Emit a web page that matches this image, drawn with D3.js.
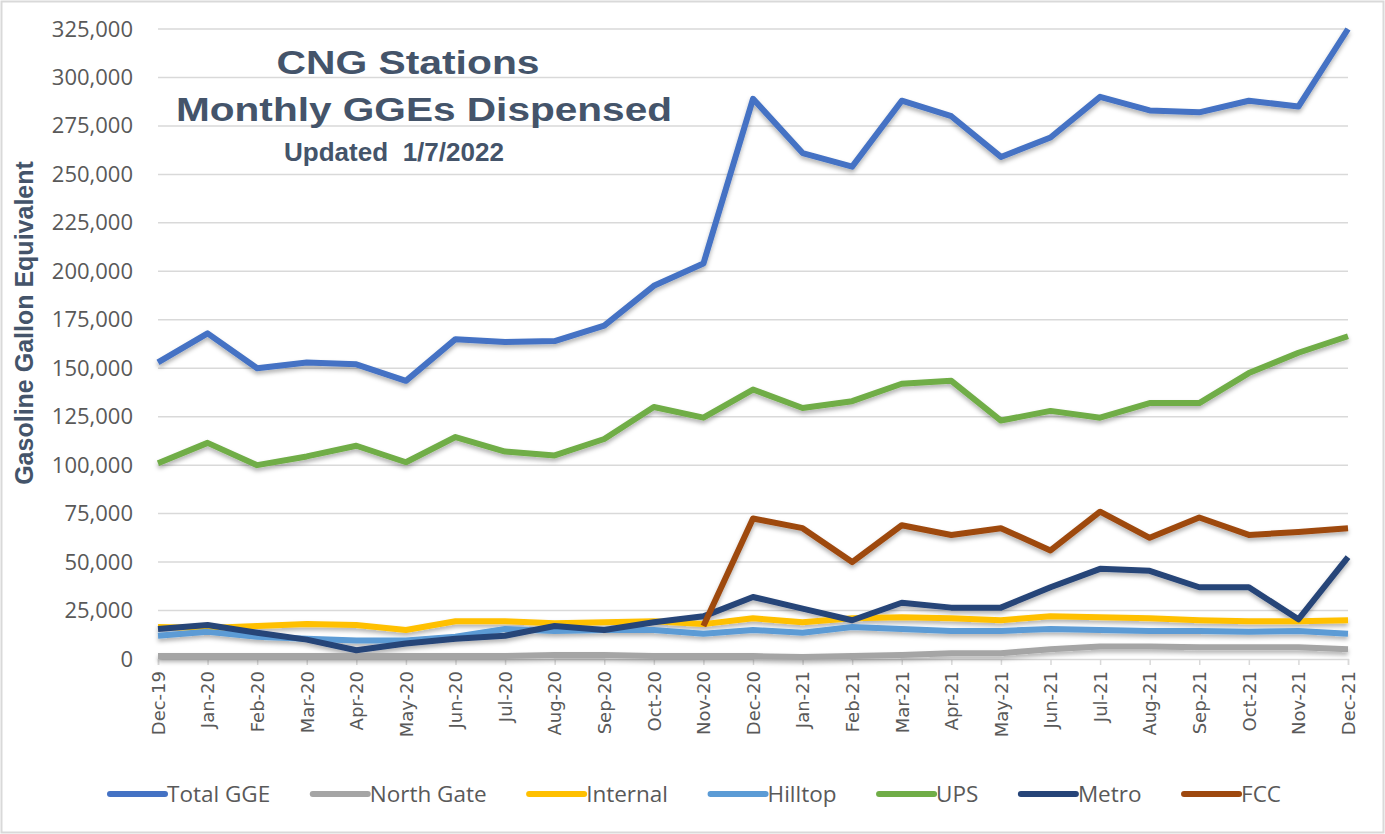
<!DOCTYPE html>
<html>
<head>
<meta charset="utf-8">
<script src="https://cdn.jsdelivr.net/npm/d3@7"></script>
<style>
  body { margin: 0; background: #fff; }
  svg { display: block; }
</style>
</head>
<body>
<script>
const width = 1385;
const height = 834;

// months on the x axis
const months = ["Dec-19", "Jan-20", "Feb-20", "Mar-20", "Apr-20", "May-20", "Jun-20", "Jul-20",
  "Aug-20", "Sep-20", "Oct-20", "Nov-20", "Dec-20", "Jan-21", "Feb-21", "Mar-21", "Apr-21",
  "May-21", "Jun-21", "Jul-21", "Aug-21", "Sep-21", "Oct-21", "Nov-21", "Dec-21"];

// values (GGE)
const totalGGE = [153000, 168000, 150000, 153000, 152000, 143500, 165000, 163500, 164000, 172000,
  192500, 204000, 289000, 261000, 254000, 288000, 280000, 259000, 269000, 290000, 283000, 282000,
  288000, 285000, 325000];
const northGate = [1500, 1500, 1500, 1500, 1500, 1500, 1500, 1500, 2000, 2000, 1500, 1500, 1500,
  1000, 1500, 2000, 3000, 3000, 5000, 6500, 6500, 6000, 6000, 6000, 5000];
const internal = [16500, 16000, 17000, 18000, 17500, 15000, 19500, 19500, 18500, 19000, 19500,
  18000, 21000, 19000, 21000, 21500, 21000, 20000, 22000, 21500, 21000, 20000, 19500, 19500, 20000];
const hilltop = [12000, 14000, 11500, 10500, 9500, 9500, 11500, 15500, 14500, 15000, 15000, 13000,
  15000, 13500, 16500, 15500, 14500, 14500, 15500, 15000, 14500, 14500, 14000, 14500, 13000];
const ups = [101000, 111500, 100000, 104500, 110000, 101500, 114500, 107000, 105000, 113500, 130000,
  124500, 139000, 129500, 133000, 142000, 143500, 123000, 128000, 124500, 132000, 132000, 147500,
  158000, 166500];
const metro = [15500, 17500, 13500, 10000, 4500, 8000, 10500, 12000, 17000, 15000, 19000, 22000,
  32000, 26000, 20000, 29000, 26500, 26500, 37000, 46500, 45500, 37000, 37000, 20500, 52500];
const fcc = [null, null, null, null, null, null, null, null, null, null, null, 17000, 72500, 67500,
  50000, 69000, 64000, 67500, 56000, 76000, 62500, 73000, 64000, 65500, 67500];

const seriesNames = ["Total GGE", "North Gate", "Internal", "Hilltop", "UPS", "Metro", "FCC"];
const seriesValues = [totalGGE, northGate, internal, hilltop, ups, metro, fcc];
const seriesColors = ["#4472C4", "#A5A5A5", "#FFC000", "#5B9BD5", "#70AD47", "#264478", "#9E480E"];

const yTicks = d3.range(0, 325001, 25000);

const margin = { left: 158, right: 37, top: 29, bottom: 175 };

const svg = d3.select("body")
  .append("svg")
  .attr("width", width)
  .attr("height", height);

svg.append("rect")
  .attr("x", 1.5).attr("y", 1.5)
  .attr("width", width - 3).attr("height", height - 3)
  .attr("fill", "#fff")
  .attr("stroke", "#d9d9d9")
  .attr("stroke-width", 2);

const defs = svg.append("defs");
defs.append("filter")
  .attr("id", "shadow")
  .attr("x", "-5%").attr("y", "-20%")
  .attr("width", "110%").attr("height", "150%")
  .append("feDropShadow")
  .attr("dx", 0).attr("dy", 3)
  .attr("stdDeviation", 2)
  .attr("flood-color", "#000")
  .attr("flood-opacity", 0.3);

const xScale = d3.scalePoint()
  .domain(months)
  .range([margin.left, width - margin.right]);

const yScale = d3.scaleLinear()
  .domain([0, 325000])
  .range([height - margin.bottom, margin.top]);

// gridlines
svg.append("g")
  .selectAll("line")
  .data(yTicks.filter(d => d > 0))
  .join("line")
  .attr("x1", margin.left)
  .attr("x2", width - margin.right)
  .attr("y1", d => yScale(d))
  .attr("y2", d => yScale(d))
  .attr("stroke", "#d9d9d9")
  .attr("stroke-width", 1.5);

// y axis labels
const yAxis = svg.append("g")
  .attr("transform", "translate(" + margin.left + ",0)")
  .call(d3.axisLeft(yScale).tickValues(yTicks).tickFormat(d3.format(",")).tickSize(0).tickPadding(25));
yAxis.select(".domain").remove();
yAxis.selectAll("text")
  .attr("fill", "#595959")
  .style("font-family", "'Open Sans', sans-serif")
  .style("font-size", "22px");

// x axis
const xAxis = svg.append("g")
  .attr("transform", "translate(0," + yScale(0) + ")")
  .call(d3.axisBottom(xScale).tickSize(6).tickPadding(8));
xAxis.select(".domain").attr("stroke", "#d9d9d9").attr("stroke-width", 1.5);
xAxis.selectAll(".tick line").attr("stroke", "#d9d9d9").attr("stroke-width", 1.5);
xAxis.selectAll("text")
  .attr("fill", "#595959")
  .style("font-family", "'DejaVu Sans', sans-serif")
  .style("font-size", "18px")
  .attr("text-anchor", "end")
  .attr("dy", "0.35em")
  .attr("transform", "translate(0,7) rotate(-90)")
  .attr("x", -5)
  .attr("y", 0);

// lines
const line = d3.line()
  .defined(d => d != null)
  .x((d, i) => xScale(months[i]))
  .y(d => yScale(d));

svg.append("g")
  .attr("filter", "url(#shadow)")
  .selectAll("path")
  .data(seriesValues)
  .join("path")
  .attr("d", d => line(d))
  .attr("fill", "none")
  .attr("stroke", (d, i) => seriesColors[i])
  .attr("stroke-width", 6)
  .attr("stroke-linejoin", "round");

// titles
const titleColor = "#44546A";
function title(txt, cx, y, size, len) {
  svg.append("text")
    .attr("x", cx - len / 2).attr("y", y)
    .attr("textLength", len)
    .attr("lengthAdjust", "spacingAndGlyphs")
    .attr("fill", titleColor)
    .style("font-family", "'Liberation Sans', Arial, sans-serif")
    .style("font-weight", "bold")
    .style("font-size", size + "px")
    .style("white-space", "pre")
    .text(txt);
}
title("CNG Stations", 408, 74, 34, 263);
title("Monthly GGEs Dispensed", 424, 121, 34, 496);
title("Updated  1/7/2022", 394, 161, 25, 220);

svg.append("text")
  .attr("transform", "translate(33,323) rotate(-90)")
  .attr("text-anchor", "middle")
  .attr("fill", titleColor)
  .style("font-family", "'Liberation Sans', Arial, sans-serif")
  .style("font-weight", "bold")
  .style("font-size", "25px")
  .text("Gasoline Gallon Equivalent");

// legend, flowed between two edges
const legendLeft = 107, legendRight = 1281, legendY = 794, swatch = 58;
const legend = svg.append("g");
const items = legend.selectAll("g")
  .data(seriesNames)
  .join("g");
items.append("line")
  .attr("x1", 3).attr("x2", swatch)
  .attr("y1", 0).attr("y2", 0)
  .attr("stroke", (d, i) => seriesColors[i])
  .attr("stroke-width", 6)
  .attr("stroke-linecap", "round");
items.append("text")
  .attr("x", swatch + 2)
  .attr("y", 0)
  .attr("dy", "0.36em")
  .attr("fill", "#595959")
  .style("font-family", "'Open Sans', sans-serif")
  .style("font-size", "22.5px")
  .text(d => d);

const widths = [];
items.each(function() { widths.push(swatch + 2 + this.querySelector("text").getComputedTextLength()); });
const gap = (legendRight - legendLeft - d3.sum(widths)) / (seriesNames.length - 1);
let cursor = legendLeft;
items.attr("transform", (d, i) => {
  const x = cursor;
  cursor += widths[i] + gap;
  return "translate(" + x + "," + legendY + ")";
});
</script>
</body>
</html>
